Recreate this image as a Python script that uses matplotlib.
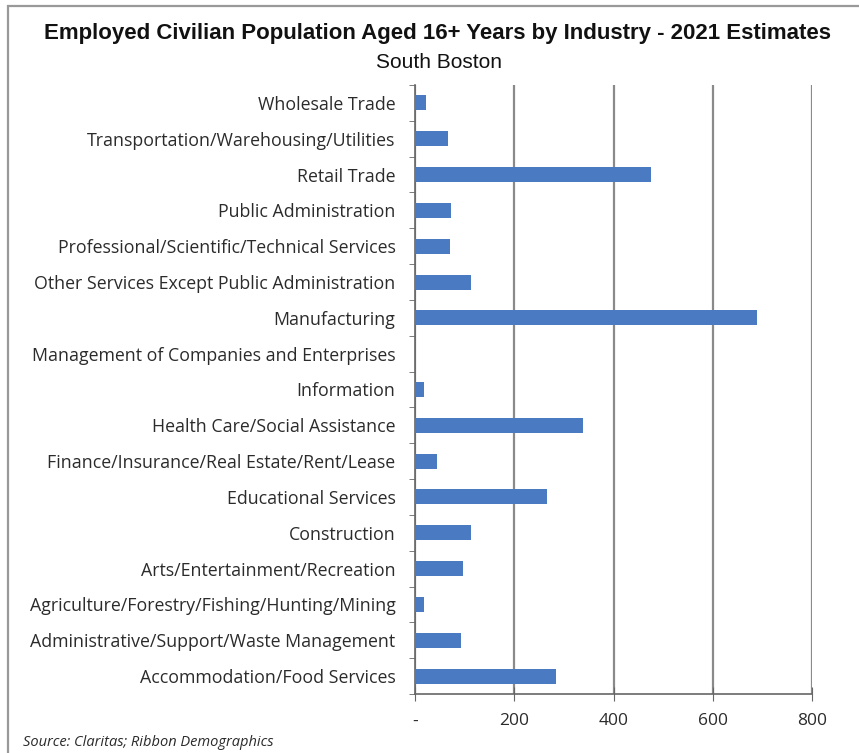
import matplotlib
matplotlib.use("Agg")
import matplotlib.pyplot as plt
from matplotlib.patches import Rectangle
from matplotlib.ticker import FuncFormatter

# industries listed top to bottom
industries = [
    "Wholesale Trade",
    "Transportation/Warehousing/Utilities",
    "Retail Trade",
    "Public Administration",
    "Professional/Scientific/Technical Services",
    "Other Services Except Public Administration",
    "Manufacturing",
    "Management of Companies and Enterprises",
    "Information",
    "Health Care/Social Assistance",
    "Finance/Insurance/Real Estate/Rent/Lease",
    "Educational Services",
    "Construction",
    "Arts/Entertainment/Recreation",
    "Agriculture/Forestry/Fishing/Hunting/Mining",
    "Administrative/Support/Waste Management",
    "Accommodation/Food Services",
]
employed = [22, 67, 475, 72, 71, 112, 690, 0, 19, 338, 44, 266, 112, 97, 19, 92, 285]
x_ticks = [0, 200, 400, 600, 800]

BAR_COLOR = "#4a7bc2"
LABEL_FONT = ["Open Sans", "DejaVu Sans"]

fig = plt.figure(figsize=(8.59, 7.53), dpi=100)

# outer chart frame (right and bottom edges run off the canvas)
fig.patches.append(Rectangle((8 / 859, -0.05), 1.0, 1 - 6 / 753 + 0.05,
                             transform=fig.transFigure, fill=False,
                             edgecolor="#999999", linewidth=1.6))

ax = fig.add_axes([415 / 859, 1 - 694 / 753, 397 / 859, 609 / 753])

y = list(range(len(industries)))
ax.barh(y, employed, height=0.42, color=BAR_COLOR, zorder=3)
ax.set_ylim(len(industries) - 0.5, -0.5)
ax.set_xlim(0, 800)

ax.set_yticks(y)
ax.set_yticklabels(industries, fontsize=12.8, family=LABEL_FONT, color="#2b2b2b")
ax.set_yticks([i - 0.5 for i in range(len(industries) + 1)], minor=True)
ax.tick_params(axis="y", which="major", length=0, pad=14)
ax.tick_params(axis="y", which="minor", length=4, color="#666666", direction="out")

ax.set_xticks(x_ticks)
ax.xaxis.set_major_formatter(FuncFormatter(lambda v, p: "-" if v == 0 else f"{v:.0f}"))
ax.tick_params(axis="x", length=10, color="#666666", direction="inout",
               labelsize=12.5, pad=9, labelcolor="#2b2b2b")
for lbl in ax.get_xticklabels():
    lbl.set_family(LABEL_FONT)

ax.grid(axis="x", color="#8a8a8a", linewidth=1.6, zorder=0)
for side in ["top", "right"]:
    ax.spines[side].set_visible(False)
for side in ["left", "bottom"]:
    ax.spines[side].set_color("#666666")
    ax.spines[side].set_linewidth(1.2)

fig.text(438 / 859, 1 - 33 / 753,
         "Employed Civilian Population Aged 16+ Years by Industry - 2021 Estimates",
         ha="center", va="center", fontsize=16, fontweight="bold",
         family="Liberation Sans", color="#111111")
fig.text(439 / 859, 1 - 63 / 753, "South Boston", ha="center", va="center",
         fontsize=15, family="Liberation Sans", color="#111111")
fig.text(23 / 859, 1 - 742 / 753, "Source: Claritas; Ribbon Demographics",
         ha="left", va="center", fontsize=10.5, style="italic",
         family=LABEL_FONT, color="#2b2b2b")

fig.savefig("out.png", dpi=100)
